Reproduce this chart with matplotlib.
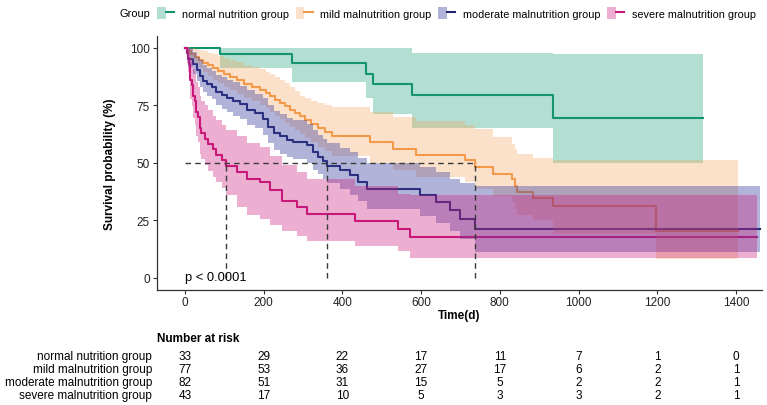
import matplotlib
matplotlib.use('Agg')
import matplotlib.pyplot as plt
import matplotlib.transforms as mtransforms
from matplotlib.patches import Patch
from matplotlib.lines import Line2D
from matplotlib.legend_handler import HandlerTuple

plt.rcParams['font.family'] = ['Liberation Sans', 'DejaVu Sans']

groups = ['normal nutrition group', 'mild malnutrition group',
          'moderate malnutrition group', 'severe malnutrition group']
line_colors = ['#12916C', '#F39A48', '#22266C', '#C8177A']
fill_colors = ['#1B9E77', '#F49D50', '#3D41A0', '#CC1C7C']
fill_alpha = [0.33, 0.30, 0.40, 0.35]

# Kaplan-Meier steps (time in days, survival in %)
normal_t = [0, 89, 271, 461, 478, 576, 934]
normal_s = [100, 97.0, 93.3, 88.7, 84.3, 79.3, 69.4]
normal_lo = [100, 91, 85, 78, 71, 65, 50]
normal_hi = [100, 100, 100, 100, 100, 97.8, 97.0]
normal_end = 1317

mild_t = [0, 8, 15, 25, 35, 47, 58, 70, 85, 100, 114, 131, 150, 170, 190, 205, 216, 230, 242, 255,
          267, 280, 292, 305, 320, 338, 356, 373, 470, 528, 588, 711, 737, 783, 830, 838, 843, 885, 934, 1197]
mild_s = [100, 98.7, 97.4, 96.1, 94.8, 93.5, 92.2, 90.9, 89.6, 88.3, 87.0, 85.7, 84.3, 83.0, 81.6, 80.2, 78.8, 77.4, 76.0, 74.6,
          73.1, 71.7, 70.2, 68.7, 67.0, 65.2, 63.3, 61.4, 59.0, 55.8, 53.5, 51.0, 48.1, 45.2, 43.0, 40.1, 37.5, 34.7, 31.4, 20.5]
mild_lo = [100, 96, 94.5, 92.7, 91, 89.3, 87.7, 86.1, 84.5, 83, 81.4, 79.9, 78.3, 76.8, 75.2, 73.6, 72, 70.5, 69, 67.3,
           65.7, 64.1, 62.5, 60.8, 59, 57, 55, 53, 50, 47, 44, 41.5, 38.5, 35.5, 33, 30, 27.5, 25, 19, 8.3]
mild_hi = [100, 100, 100, 99.5, 99, 98.5, 97.8, 97, 96.2, 95.3, 94.5, 93.6, 92.6, 91.6, 90.5, 89.4, 88.3, 87.2, 86.1, 84.5,
           83, 81, 79, 78, 77, 76, 75, 74, 72, 70, 68, 66.5, 64.8, 61, 58, 56, 54, 52, 51, 51]
mild_end = 1405

moderate_t = [0, 4, 8, 21, 30, 38, 47, 55, 68, 80, 93, 106, 123, 140, 157, 178, 199, 212, 225, 242,
              258, 275, 309, 326, 338, 350, 360, 394, 419, 440, 462, 597, 639, 673, 699, 737]
moderate_s = [100, 97.6, 95.1, 92.7, 90.2, 87.8, 85.4, 84.1, 82.9, 80.5, 79.2, 77.9, 76.6, 75.3, 72.9, 71.6, 69.1, 65.5, 62.8, 61.4,
              60.0, 59.0, 57.6, 54.6, 52.5, 50.9, 48.8, 46.7, 44.5, 41.6, 38.7, 35.8, 32.9, 29.3, 25.7, 21.3]
moderate_lo = [100, 94.5, 91.5, 88.5, 85.5, 83, 80.5, 79, 77.5, 75, 73.5, 72, 70.5, 69, 66.5, 65, 62, 58.5, 55.5, 54,
               52.5, 51.5, 50, 47, 45, 43, 41, 38.5, 36, 33.5, 30, 27, 24, 20.5, 17, 11.4]
moderate_hi = [100, 100, 99.8, 98, 96, 94.5, 92.5, 91.3, 90, 88, 87, 86, 85, 83.5, 81.5, 80, 78, 75, 72.5, 71,
               69.5, 68.5, 67, 64, 62, 60.5, 58.5, 56.5, 54.5, 52, 50, 48, 46, 43, 41, 39.7]
moderate_end = 1461

severe_t = [0, 4, 8, 10, 12, 14, 17, 21, 25, 28, 32, 38, 42, 51, 59, 72, 80, 93, 104, 131,
            157, 190, 216, 246, 284, 309, 432, 542, 572]
severe_s = [100, 97.7, 95.3, 93.0, 88.4, 86.0, 83.7, 79.1, 76.7, 72.1, 69.8, 65.1, 62.8, 60.5, 58.1, 55.8, 53.5, 51.2, 48.8, 46.0,
            43.0, 41.6, 38.0, 33.6, 30.7, 27.8, 24.9, 21.3, 17.8]
severe_lo = [100, 93.5, 89.5, 86.5, 80.5, 77.5, 74.5, 69.5, 66.5, 61.5, 59, 54, 51.5, 49, 46.5, 44, 41.5, 39, 36, 31,
             27.5, 25.5, 23, 20.5, 18, 16, 14, 11.5, 8.7]
severe_hi = [100, 100, 100, 99.5, 97, 95.5, 94, 90.5, 88.5, 85, 83, 79, 77, 75, 73, 70.5, 68.5, 66.5, 64, 61.5,
             58.5, 57, 53, 49, 46, 43, 40, 36.5, 36]
severe_end = 1453

risk_times = [0, 200, 400, 600, 800, 1000, 1200, 1400]
risk_normal = [33, 29, 22, 17, 11, 7, 1, 0]
risk_mild = [77, 53, 36, 27, 17, 6, 2, 1]
risk_moderate = [82, 51, 31, 15, 5, 2, 2, 1]
risk_severe = [43, 17, 10, 5, 3, 3, 2, 1]

curves = [
    (normal_t, normal_s, normal_lo, normal_hi, normal_end),
    (mild_t, mild_s, mild_lo, mild_hi, mild_end),
    (moderate_t, moderate_s, moderate_lo, moderate_hi, moderate_end),
    (severe_t, severe_s, severe_lo, severe_hi, severe_end),
]
risk = [risk_normal, risk_mild, risk_moderate, risk_severe]

W, H = 767, 406
fig = plt.figure(figsize=(W / 100, H / 100), dpi=100)
ax = fig.add_axes([157 / W, 1 - 290.5 / H, (762 - 157) / W, 253.5 / H])

# step lines first, ribbons on top (as in the original)
for i, (t, s, lo, hi, end) in enumerate(curves):
    ax.step(t + [end], s + [s[-1]], where='post', color=line_colors[i], lw=1.5, zorder=2)
for i, (t, s, lo, hi, end) in enumerate(curves):
    ax.fill_between(t + [end], lo + [lo[-1]], hi + [hi[-1]], step='post',
                    color=fill_colors[i], alpha=fill_alpha[i], lw=0, zorder=3)

# median survival lines
medians = []
for t, s, lo, hi, end in curves:
    below = [tt for tt, ss in zip(t, s) if ss <= 50]
    if below:
        medians.append(below[0])
dash = (0, (4, 3))
ax.plot([0, max(medians)], [50, 50], ls=dash, color='#3a3a3a', lw=1.0, zorder=4)
for m in medians:
    ax.plot([m, m], [0, 50], ls=dash, color='#3a3a3a', lw=1.0, zorder=4)

ax.text(0, 0.5, 'p < 0.0001', fontsize=9.3, ha='left', va='center', zorder=5)

ax.set_xlim(-71, 1466)
ax.set_ylim(-5, 105)
ax.set_xticks(risk_times)
ax.set_yticks([0, 25, 50, 75, 100])
for side in ['top', 'right']:
    ax.spines[side].set_visible(False)
for side in ['left', 'bottom']:
    ax.spines[side].set_color('#333333')
    ax.spines[side].set_linewidth(0.9)
ax.tick_params(labelsize=8.5, length=3, width=0.8, color='#333333', pad=2, labelcolor='#222222')

ax.set_xlabel('Time(d)', fontsize=8.5, fontweight='bold')
ax.xaxis.set_label_coords(0.5, -0.10)
ax.xaxis.label.set_va('center')
ax.set_ylabel('Survival probability (%)', fontsize=8.5, fontweight='bold')
ax.yaxis.set_label_coords(-0.078, 0.5)
ax.yaxis.label.set_va('center')

# legend across the top
handles = [(Patch(facecolor=fill_colors[i], alpha=fill_alpha[i], lw=0),
            Line2D([], [], color=line_colors[i], lw=1.5)) for i in range(4)]
fig.text(150 / W, 1 - 14 / H, 'Group', fontsize=7.9, ha='right', va='center')
fig.legend(handles, groups, loc='center left', bbox_to_anchor=(157 / W, 1 - 14 / H),
           ncol=4, frameon=False, fontsize=7.8, handlelength=1.57, handleheight=1.3,
           handletextpad=0.72, columnspacing=0.62, borderpad=0, borderaxespad=0,
           handler_map={tuple: HandlerTuple(ndivide=None)})

# number at risk table
fig.text(157 / W, 1 - 339 / H, 'Number at risk', fontsize=8.5, fontweight='bold', ha='left', va='center')
trans = mtransforms.blended_transform_factory(ax.transData, fig.transFigure)
row_y = [357, 370, 383, 396]
for i, name in enumerate(groups):
    y = 1 - row_y[i] / H
    fig.text(152 / W, y, name, fontsize=8.5, ha='right', va='center')
    for tt, n in zip(risk_times, risk[i]):
        ax.text(tt, y, str(n), transform=trans, fontsize=8.5, ha='center', va='center', clip_on=False)

fig.savefig('out.png', dpi=100)
